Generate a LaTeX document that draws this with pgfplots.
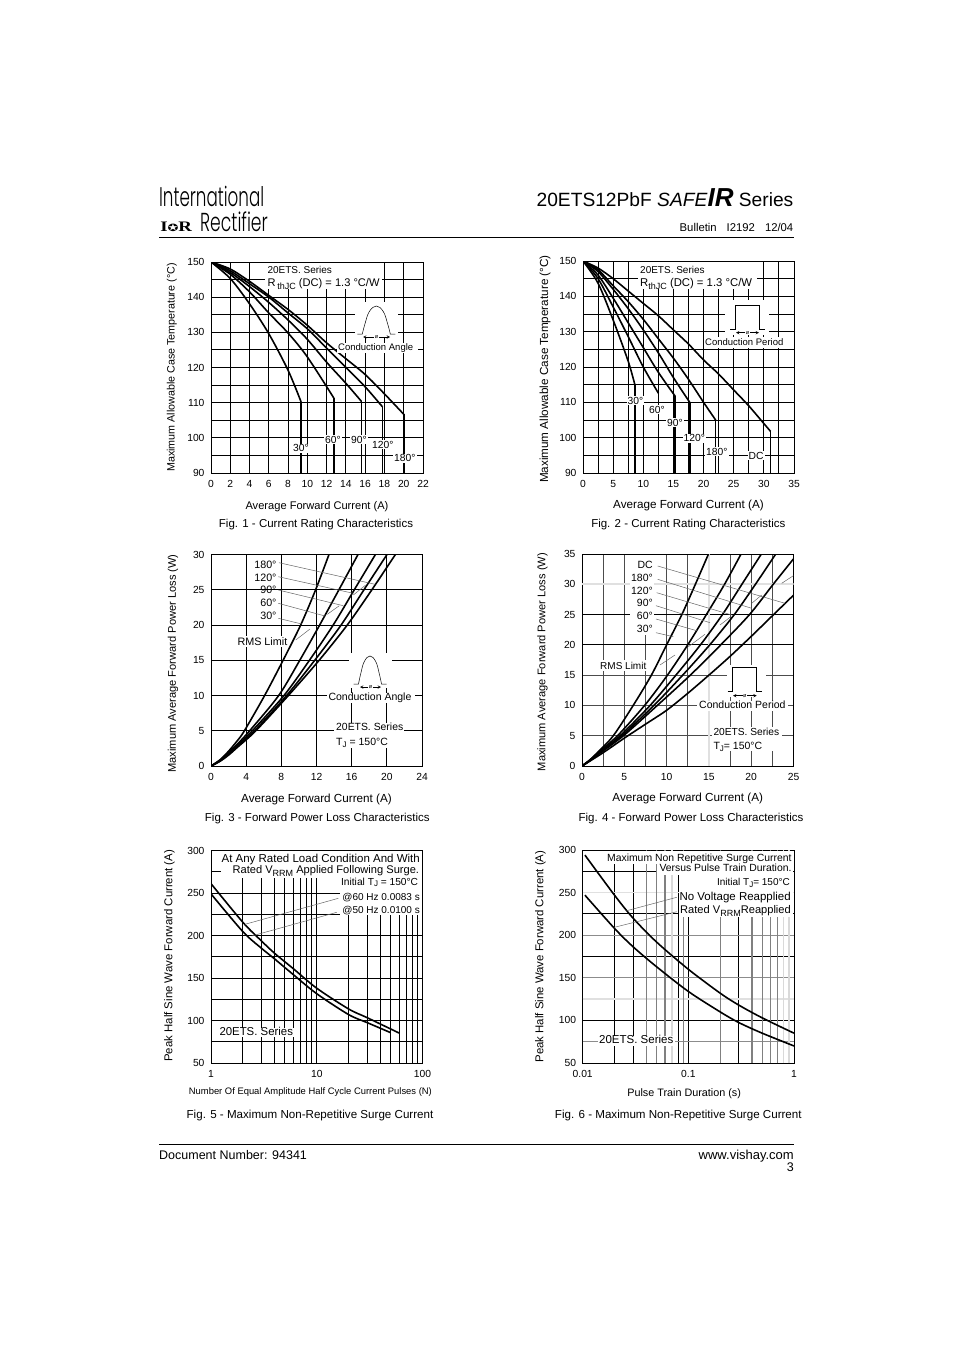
\documentclass[border=0pt]{standalone}
\usepackage{fontspec}
\usepackage{pgfplots}
\pgfplotsset{compat=1.18}
\setmainfont{Liberation Sans}
\newfontfamily\logofont{Poppins Light}
\newfontfamily\logobold{Liberation Serif}
\newfontfamily\symfont{DejaVu Sans}
\newcommand{\fz}[1]{\fontsize{#1}{#1}\selectfont}
\newcommand{\mask}[4]{\fill[white] (#1,#2) rectangle (#3,#4);}
\newcommand{\phimark}[3]{% x1, x2, y
  \draw[thinl,<->,>=stealth] (#1,#3)--(#2,#3);
  \node[fill=white,inner sep=0.5pt,font=\fz{5.5}] at ({(#1+#2)/2},#3) {ø};}
\newcommand{\bump}[4]{% centre x, base y, half width, height
  \draw[thinl] ({#1-#3-5},#2)--({#1-#3},#2) plot[smooth,tension=0.7] coordinates {({#1-#3},#2) ({#1-0.8*#3},{#2-0.38*#4}) ({#1-0.5*#3},{#2-0.8*#4}) ({#1},{#2-#4}) ({#1+0.5*#3},{#2-0.8*#4}) ({#1+0.8*#3},{#2-0.38*#4}) ({#1+#3},#2)} --({#1+#3+5},#2);}
\newcommand{\pulse}[4]{% x1, x2, top, base
  \draw[thinl] ({#1-5},#4)--(#1,#4)--(#1,#3)--(#2,#3)--(#2,#4)--({#2+5},#4);}
\pgfplotsset{
  sheet/.style={
    scale only axis,
    /pgf/number format/assume math mode=true,
    tick label style={font=\fz{10.3}},
    tick style={draw=none},
    axis line style={line width=1pt},
    major grid style={black,line width=1pt},
    minor grid style={black,line width=1pt},
    grid=both,
    xticklabel style={yshift=-4pt},
    yticklabel style={xshift=-3pt},
    clip=true,
  },
  crv/.style={black,line width=1.6pt,line join=round,no marks,smooth,tension=0.5},
  drop/.style={black,line width=1.6pt,no marks},
}
\begin{document}
\begin{tikzpicture}
\path[use as bounding box] (0,0) rectangle (954pt,-1351pt);

% Fig 1
\begin{axis}[sheet,at={(211pt,-473pt)},anchor=south west,width=212pt,height=211pt,
  xmin=0,xmax=22,ymin=90,ymax=150,
  xtick={0,2,...,22},ytick={90,100,...,150},minor y tick num=1,
  xlabel={Average Forward Current (A)},
  xlabel style={font=\fz{11.1},at={(axis description cs:0.5,-0.172)},anchor=base},
  ylabel={Maximum Allowable Case Temperature (°C)},
  ylabel style={font=\fz{10.7},at={(axis description cs:-0.185,0.50)},anchor=center}]
\addplot[crv] coordinates {(0,150)(2,145.3)(4,138.1)(6,129.6)(8,119.2)(9.35,110.2)};
\addplot[drop] coordinates {(9.35,110.2)(9.35,90)};
\addplot[crv] coordinates {(0,150)(2,146.5)(4,141.5)(6,135.5)(8,129.8)(10,123)(12.75,111.3)};
\addplot[drop] coordinates {(12.75,111.3)(12.75,90)};
\addplot[crv] coordinates {(0,150)(2,147)(4,143)(6,138.5)(8,133.5)(10,128)(12,121.5)(14,115.5)(15.6,110.4)};
\addplot[drop] coordinates {(15.6,110.4)(15.6,90)};
\addplot[crv] coordinates {(0,150)(2,147.5)(4,143.8)(6,140)(8,135.5)(10,131)(12,125.5)(14,120)(16,114.5)(17.8,108.8)};
\addplot[drop] coordinates {(17.8,108.8)(17.8,90)};
\addplot[crv] coordinates {(0,150)(2,148)(4,144.5)(6,140.5)(8,136.5)(10,132)(12,127)(14,122.5)(16,118)(18,112.5)(20,106.7)};
\addplot[drop] coordinates {(20,106.7)(20,90)};
\end{axis}

% Fig 2
\begin{axis}[sheet,at={(583pt,-473pt)},anchor=south west,width=211pt,height=212pt,
  xmin=0,xmax=35,ymin=90,ymax=150,
  xtick={0,5,...,35},minor x tick num=1,ytick={90,100,...,150},minor y tick num=1,
  xlabel={Average Forward Current (A)},
  xlabel style={font=\fz{11.7},at={(axis description cs:0.50,-0.168)},anchor=base},
  ylabel={Maximum Allowable Case Temperature (°C)},
  ylabel style={font=\fz{11.7},at={(axis description cs:-0.18,0.49)},anchor=center}]
\addplot[crv] coordinates {(0,150)(2.5,143.7)(5,133.3)(7.5,121.6)(8.63,114.8)};
\addplot[drop] coordinates {(8.63,114.8)(8.63,90)};
\addplot[crv] coordinates {(0,150)(2.5,145)(5,137)(7.5,128.6)(10,120)(12.5,112.6)};
\addplot[drop] coordinates {(12.5,112.6)(12.5,90)};
\addplot[crv] coordinates {(0,150)(2.5,146)(5,139.5)(7.5,132.5)(10,125.5)(12.5,118.5)(15.3,111.7)};
\addplot[drop] coordinates {(15.3,111.7)(15.3,90)};
\addplot[crv] coordinates {(0,150)(2.5,147)(5,142)(7.5,136.5)(10,130.5)(12.5,124)(15,117)(17.7,110)};
\addplot[drop] coordinates {(17.7,110)(17.7,90)};
\addplot[crv] coordinates {(0,150)(2.5,147.5)(5,143)(7.5,138.5)(10,133.5)(12.5,128)(15,122.5)(17.5,116.5)(20,110)(22,105)};
\addplot[drop] coordinates {(22,105)(22,90)};
\addplot[crv] coordinates {(0,150)(2.5,148)(5,145)(7.5,141.5)(10,138)(12.5,134.5)(15,130.5)(17.5,126.5)(20,122)(22.5,118)(25,113.5)(27.5,109)(30,104)(31.1,101.8)};
\addplot[drop] coordinates {(31.1,101.8)(31.1,90)};
\end{axis}

% Fig 3
\begin{axis}[sheet,at={(211pt,-766pt)},anchor=south west,width=211pt,height=211.5pt,
  xmin=0,xmax=24,ymin=0,ymax=30,
  xtick={0,4,...,24},ytick={0,5,...,30},
  xlabel={Average Forward Current (A)},
  xlabel style={font=\fz{11.7},at={(axis description cs:0.50,-0.172)},anchor=base},
  ylabel={Maximum Average Forward Power Loss (W)},
  ylabel style={font=\fz{11.1},at={(axis description cs:-0.18,0.485)},anchor=center}]
\addplot[crv] coordinates {(0,0)(1,0.85)(2,2.1)(3,3.6)(3.8,5)(6.1,10)(8.2,15)(10.2,20)(11.9,25)(13.42,30)};
\addplot[crv] coordinates {(0,0)(1,0.8)(2,1.9)(3,3.1)(4.4,5)(7.7,10)(10.1,15)(12.36,20)(14.55,25)(16.72,30)};
\addplot[crv] coordinates {(0,0)(1,0.75)(2,1.75)(3,2.9)(4.7,5)(8.3,10)(11.2,15)(13.9,20)(16.3,25)(18.7,30)};
\addplot[crv] coordinates {(0,0)(1,0.7)(2,1.65)(3,2.75)(4.95,5)(8.6,10)(11.8,15)(14.8,20)(17.4,25)(20.02,30)};
\addplot[crv] coordinates {(0,0)(1,0.65)(2,1.55)(3,2.65)(5.1,5)(8.8,10)(12.3,15)(15.5,20)(18.3,25)(20.97,30)};
\end{axis}

% Fig 4
\begin{axis}[sheet,at={(582pt,-766pt)},anchor=south west,width=211.5pt,height=212pt,
  major grid style={black!70,line width=1pt},minor grid style={black!70,line width=1pt},
  xmin=0,xmax=25,ymin=0,ymax=35,
  xtick={0,5,...,25},minor x tick num=1,ytick={0,5,...,35},
  xlabel={Average Forward Current (A)},
  xlabel style={font=\fz{11.7},at={(axis description cs:0.50,-0.167)},anchor=base},
  ylabel={Maximum Average Forward Power Loss (W)},
  ylabel style={font=\fz{11.1},at={(axis description cs:-0.187,0.49)},anchor=center}]
\draw[black,line width=1pt] (axis cs:0,20)--(axis cs:25,20);
\draw[black,line width=1pt] (axis cs:0,25)--(axis cs:25,25);
\draw[black!12,line width=1.6pt] (axis cs:0,30)--(axis cs:25,30);
\draw[black!12,line width=1.6pt] (axis cs:15,0)--(axis cs:15,35);
\addplot[crv] coordinates {(0,0)(1,1.1)(2,2.45)(3.7,5)(6.05,10)(8.2,15)(10,20)(11.8,25)(13.4,30)(14.95,35)};
\addplot[crv] coordinates {(0,0)(1,1.05)(2,2.3)(4.2,5)(7.4,10)(10.1,15)(12.5,20)(14.7,25)(16.85,30)(18.8,35)};
\addplot[crv] coordinates {(0,0)(1,1)(2,2.2)(4.5,5)(8.05,10)(11.1,15)(14,20)(16.6,25)(18.9,30)(21.2,35)};
\addplot[crv] coordinates {(0,0)(1,0.98)(2,2.1)(4.7,5)(8.5,10)(11.9,15)(15.1,20)(18,25)(20.5,30)(22.9,35)};
\addplot[crv] coordinates {(0,0)(1,0.95)(2,2)(4.9,5)(8.9,10)(12.8,15)(16.4,20)(19.8,25)(22.6,30)(25,34.2)};
\addplot[crv] coordinates {(0,0)(2.5,2.2)(5,4.6)(7.5,6.9)(10,9.2)(12.5,12)(15,15)(17.5,18.1)(20,21.4)(22.5,24.8)(25,28.2)};
\end{axis}

% Fig 5
\begin{axis}[sheet,xmode=log,at={(211pt,-1063pt)},anchor=south west,width=211.5pt,height=212.5pt,
  xmin=1,xmax=100,ymin=50,ymax=300,
  xtick={1,10,100},xticklabels={1,10,100},ytick={50,100,...,300},minor y tick num=1,
  xlabel={Number Of Equal Amplitude Half Cycle Current Pulses (N)},
  xlabel style={font=\fz{9.4},at={(axis description cs:0.47,-0.15)},anchor=base},
  ylabel={Peak Half Sine Wave Forward Current (A)},
  ylabel style={font=\fz{11.4},at={(axis description cs:-0.197,0.505)},anchor=center}]
\addplot[crv] coordinates {(1,261)(2,215.6)(3,193.6)(4,179)(6,161)(10,138)(20,113.6)(30,103.3)(60,85.3)};
\addplot[crv] coordinates {(1,249)(2,204.6)(3,185)(4,172.4)(6,154)(10,131.5)(20,107)(30,97.5)(50,85.7)};
\end{axis}

% Fig 6
\begin{axis}[sheet,xmode=log,at={(582.7pt,-1063pt)},anchor=south west,width=211.3pt,height=213pt,
  xmin=0.01,xmax=1,ymin=50,ymax=300,
  xtick={0.01,0.1,1},xticklabels={0.01,0.1,1},ytick={50,100,...,300},minor y tick num=1,
  xlabel={Pulse Train Duration (s)},
  xlabel style={font=\fz{10.8},at={(axis description cs:0.48,-0.155)},anchor=base},
  ylabel={Peak Half Sine Wave Forward Current (A)},
  ylabel style={font=\fz{11.4},at={(axis description cs:-0.2,0.50)},anchor=center}]
\draw[black!12,line width=1.6pt] (axis cs:0.01,250)--(axis cs:1,250);
\draw[black!12,line width=1.6pt] (axis cs:0.01,125)--(axis cs:1,125);
\draw[black!45,line width=1.2pt] (axis cs:0.01,200)--(axis cs:1,200);
\draw[black!45,line width=1.2pt] (axis cs:0.01,150)--(axis cs:1,150);
\draw[black!45,line width=1.2pt] (axis cs:0.01,75)--(axis cs:1,75);
\draw[black!50,line width=1.2pt] (axis cs:0.04,50)--(axis cs:0.04,300);
\draw[black!50,line width=1.2pt] (axis cs:0.05,50)--(axis cs:0.05,300);
\draw[black!50,line width=1.2pt] (axis cs:0.06,50)--(axis cs:0.06,300);
\draw[black!15,line width=1.4pt] (axis cs:0.07,50)--(axis cs:0.07,300);
\draw[black!50,line width=1.2pt] (axis cs:0.09,50)--(axis cs:0.09,300);
\draw[black!50,line width=1.2pt] (axis cs:0.2,50)--(axis cs:0.2,300);
\draw[black!50,line width=1.2pt] (axis cs:0.4,50)--(axis cs:0.4,300);
\draw[black!50,line width=1.2pt] (axis cs:0.5,50)--(axis cs:0.5,300);
\draw[black!50,line width=1.2pt] (axis cs:0.6,50)--(axis cs:0.6,300);
\draw[black!50,line width=1.2pt] (axis cs:0.7,50)--(axis cs:0.7,300);
\draw[black!15,line width=1.4pt] (axis cs:0.8,50)--(axis cs:0.8,300);
\draw[black!15,line width=1.4pt] (axis cs:0.9,50)--(axis cs:0.9,300);
\addplot[crv] coordinates {(0.0105,294)(0.02,247)(0.03,220)(0.05,192)(0.1,160)(0.2,132)(0.3,118)(0.5,103)(1,85)};
\addplot[crv] coordinates {(0.0105,247)(0.02,208)(0.03,186.4)(0.05,163)(0.1,134)(0.2,110)(0.3,97.5)(0.5,85)(1,70)};
\end{axis}

% page furniture and annotations, in page pixels
\begin{scope}[x=1pt,y=-1pt,
  L/.style={anchor=base west,inner sep=0pt},
  R/.style={anchor=base east,inner sep=0pt},
  M/.style={anchor=base,inner sep=0pt},
  W/.style={fill=white,inner sep=1pt,anchor=base west},
  lead/.style={black!60,line width=0.5pt},
  thinl/.style={black,line width=0.5pt}]

% header
\node[R,font=\fz{19.2}] at (793.5,206) {20ETS12PbF \textit{SAFE}{\fz{26}\bfseries\itshape IR} Series};
\node[R,font=\fz{11.3}] at (793.5,231) {Bulletin\hspace{10pt}I2192\hspace{10pt}12/04};
\draw[black,line width=1pt] (159,237.3)--(794,237.3);
\node[L,font=\logofont\fz{27},xscale=0.62] at (159,207) {International};
\node[L,font=\logobold\bfseries\fz{14.5},xscale=1.3] at (160,231) {I{\symfont\fz{10}✪}R};
\node[L,font=\logofont\fz{26},xscale=0.66] at (200,231) {Rectifier};

% footer
\draw[black,line width=1pt] (159,1144.3)--(794,1144.3);
\node[L,font=\fz{12.5}] at (159,1159) {Document Number: 94341};
\node[R,font=\fz{13}] at (794,1159) {www.vishay.com};
\node[R,font=\fz{12.5}] at (794,1171) {3};

% captions
\node[M,font=\fz{11.5}] at (316,527.7) {Fig. 1 - Current Rating Characteristics};
\node[M,font=\fz{11.5}] at (688.3,527.3) {Fig. 2 - Current Rating Characteristics};
\node[M,font=\fz{11.5}] at (317.3,821) {Fig. 3 - Forward Power Loss Characteristics};
\node[M,font=\fz{11.5}] at (691,821.7) {Fig. 4 - Forward Power Loss Characteristics};
\node[M,font=\fz{11.6}] at (310,1118.3) {Fig. 5 - Maximum Non-Repetitive Surge Current};
\node[M,font=\fz{11.6}] at (678.3,1118.3) {Fig. 6 - Maximum Non-Repetitive Surge Current};

% Fig 1 notes
\mask{265}{262.7}{382}{289}
\node[L,font=\fz{10}] at (267.3,273.7) {20ETS. Series};
\node[L,font=\fz{11.1}] at (267.3,286.7) {R\,{\fz{9}\raisebox{-2.5pt}{thJC}} (DC) = 1.3 °C/W};
\mask{355}{302}{398}{337}
\bump{376.3}{334}{14}{28}
\phimark{363}{390}{337}
\mask{337}{343}{418}{353}
\node[L,font=\fz{9.5}] at (338,350.7) {Conduction Angle};
\node[W,font=\fz{10.3}] at (292,451.7) {30°};
\node[W,font=\fz{10.3}] at (324,443.3) {60°};
\node[W,font=\fz{10.3}] at (350,443.3) {90°};
\node[W,font=\fz{10.3}] at (371,448.3) {120°};
\node[W,font=\fz{10.3}] at (393,461.7) {180°};

% Fig 2 notes
\mask{638}{262}{757}{289}
\node[L,font=\fz{10}] at (640,273.7) {20ETS. Series};
\node[L,font=\fz{11.3}] at (640,286.7) {R{\fz{9}\raisebox{-2.5pt}{thJC}} (DC) = 1.3 °C/W};
\mask{725}{300}{769}{335}
\pulse{735.3}{759.7}{305.3}{329}
\phimark{736}{759}{332.7}
\mask{705}{337}{786}{348}
\node[L,font=\fz{9.5}] at (705,345.7) {Conduction Period};
\node[W,font=\fz{10.3}] at (626.5,404) {30°};
\node[W,font=\fz{10.3}] at (648,413.3) {60°};
\node[W,font=\fz{10.3}] at (666,426) {90°};
\node[W,font=\fz{10.3}] at (682.5,441.7) {120°};
\node[W,font=\fz{10.3}] at (705,455) {180°};
\node[W,font=\fz{10.3}] at (747.5,459) {DC};

% Fig 3 notes
\foreach \yy/\lb in {568.3/180°,581/120°,593.3/90°,606/60°,619.3/30°} {
  \node[R,font=\fz{10.7}] at (276.7,\yy) {\lb};}
\draw[lead] (279,562.7)--(375,584.3);
\draw[lead] (278.3,576.7)--(353.3,593.3);
\draw[lead] (278.3,590)--(343.3,605.7);
\draw[lead] (278.3,603.3)--(325,616);
\draw[lead] (278.3,618.3)--(301.7,624);
\draw[lead] (295.7,640)--(310,629);
\draw[lead] (327.3,614.3)--(339.3,605.7);
\draw[lead] (353.3,595)--(365.7,585);
\fill[white] (237,635.5) rectangle (288,647);
\node[L,font=\fz{10.8}] at (237.3,645) {RMS Limit};
\mask{349}{653.3}{391.7}{688}
\bump{370}{684}{11.5}{28}
\phimark{360}{381}{687}
\mask{327}{693}{415}{703}
\node[L,font=\fz{10.5}] at (328.3,700.7) {Conduction Angle};
\mask{334}{722.7}{404}{748}
\node[L,font=\fz{10.4}] at (336,730.7) {20ETS. Series};
\node[L,font=\fz{10.5}] at (336,745) {T\raisebox{-2.5pt}{\fz{8}J} = 150°C};

% Fig 4 notes
\mask{630}{555.3}{654}{635}
\foreach \yy/\lb in {568.3/DC,581/180°,594/120°,606.7/90°,619.3/60°,632.7/30°} {
  \node[R,font=\fz{10.5}] at (653,\yy) {\lb};}
\draw[lead] (657.7,566)--(785,603.3);
\draw[lead] (657.7,579.3)--(751.7,608.3);
\draw[lead] (656.7,592.7)--(731.7,615);
\draw[lead] (656,605.7)--(710,622.7);
\draw[lead] (656,619)--(696.7,630.7);
\draw[lead] (656,632.7)--(673.3,636.7);
\draw[lead] (660,665)--(675,655);
\draw[lead] (688.3,646.7)--(705,634.3);
\draw[lead] (720,625)--(730,617.3);
\draw[lead] (751.7,603.3)--(761.7,595);
\draw[lead] (781.7,583.3)--(793.3,575.7);
\mask{598}{660}{647}{671}
\node[L,font=\fz{10}] at (600,669) {RMS Limit};
\mask{726.7}{665}{766}{697}
\pulse{732.7}{756.7}{667.3}{691.7}
\phimark{733}{756.7}{695.7}
\mask{697}{701}{788}{711}
\node[L,font=\fz{10.5}] at (699,708.7) {Conduction Period};
\mask{711.7}{727}{782}{751}
\node[L,font=\fz{10.2}] at (713.3,735.7) {20ETS. Series};
\node[L,font=\fz{10.5}] at (713.3,749) {T\raisebox{-2.5pt}{\fz{8}J}= 150°C};

% Fig 5 notes
\mask{220.7}{851.1}{421.6}{877.7}
\mask{340}{877}{421.6}{914.5}
\node[R,font=\fz{11.5}] at (420,862.7) {At Any Rated Load Condition And With};
\node[R,font=\fz{11.1}] at (419.3,873.7) {Rated V\raisebox{-2.5pt}{\fz{9}RRM} Applied Following Surge.};
\node[R,font=\fz{10.2}] at (418.3,885) {Initial T\raisebox{-1.5pt}{\fz{8}J} = 150°C};
\node[R,font=\fz{10}] at (420,900.7) {@60 Hz 0.0083 s};
\node[R,font=\fz{10}] at (420,913) {@50 Hz 0.0100 s};
\draw[lead] (245,924.3)--(338.3,898.3);
\draw[lead] (251.7,936)--(336.7,912.3);
\mask{218.3}{1027.7}{294.3}{1037.3}
\node[L,font=\fz{11.4}] at (219.3,1035) {20ETS. Series};

% Fig 6 notes
\mask{605}{851.2}{793.4}{864.3}
\mask{656.7}{864}{793.4}{875}
\mask{679}{875}{793.4}{916.7}
\node[R,font=\fz{10.4}] at (791.7,861.7) {Maximum Non Repetitive Surge Current};
\node[R,font=\fz{10.4}] at (791.7,871.7) {Versus Pulse Train Duration.};
\node[R,font=\fz{10}] at (790,885.7) {Initial T\raisebox{-1.5pt}{\fz{8}J}= 150°C};
\node[R,font=\fz{11.5}] at (791,900.7) {No Voltage Reapplied};
\node[R,font=\fz{11.1}] at (791,913.7) {Rated V\raisebox{-2.5pt}{\fz{9}RRM}Reapplied};
\draw[lead] (626.7,910.7)--(676.7,897.3);
\draw[lead] (614.3,927.3)--(676.7,911.7);
\mask{598}{1036}{675}{1045.7}
\node[L,font=\fz{11.5}] at (599,1043.3) {20ETS. Series};
\end{scope}
\end{tikzpicture}
\end{document}
